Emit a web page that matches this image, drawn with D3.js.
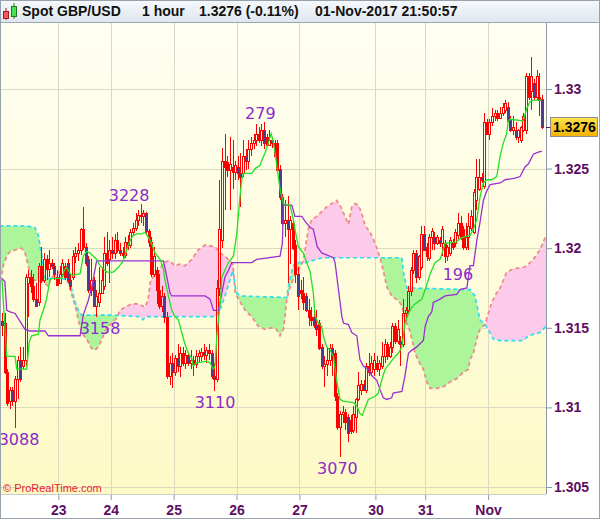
<!DOCTYPE html>
<html><head><meta charset="utf-8">
<script src="https://cdn.jsdelivr.net/npm/d3@7"></script>
<style>body{margin:0;background:#fff}svg{display:block}</style>
</head><body><svg id="c" width="600" height="519"></svg>
<script>
// ---------- DATA ----------
const openP=[1.3154,1.3153,1.3122,1.3104,1.3111,1.3104,1.3118,1.3130,1.3126,1.3130,
1.3178,1.3182,1.3176,1.3168,1.3166,1.3189,1.3180,1.3193,1.3187,1.3191,
1.3189,1.3182,1.3178,1.3184,1.3189,1.3191,1.3180,1.3182,1.3195,1.3197,
1.3199,1.3212,1.3201,1.3193,1.3174,1.3180,1.3164,1.3166,1.3172,1.3176,
1.3197,1.3193,1.3199,1.3197,1.3205,1.3199,1.3197,1.3196,1.3204,1.3202,
1.3210,1.3213,1.3218,1.3221,1.3220,1.3222,1.3211,1.3204,1.3184,1.3186,
1.3174,1.3164,1.3170,1.3157,1.3120,1.3128,1.3122,1.3131,1.3126,1.3134,
1.3128,1.3133,1.3128,1.3130,1.3127,1.3132,1.3132,1.3135,1.3133,1.3136,
1.3134,1.3120,1.3118,1.3175,1.3205,1.3255,1.3254,1.3249,1.3251,1.3248,
1.3251,1.3247,1.3247,1.3258,1.3255,1.3262,1.3266,1.3268,1.3272,1.3268,
1.3274,1.3270,1.3265,1.3268,1.3266,1.3266,1.3250,1.3232,1.3216,1.3218,
1.3212,1.3216,1.3202,1.3184,1.3174,1.3172,1.3170,1.3161,1.3157,1.3157,
1.3152,1.3153,1.3138,1.3126,1.3127,1.3130,1.3137,1.3134,1.3107,1.3088,
1.3096,1.3097,1.3094,1.3092,1.3086,1.3094,1.3105,1.3111,1.3115,1.3111,
1.3126,1.3122,1.3124,1.3128,1.3124,1.3126,1.3132,1.3140,1.3132,1.3138,
1.3151,1.3142,1.3142,1.3140,1.3159,1.3161,1.3173,1.3186,1.3197,1.3182,
1.3188,1.3209,1.3201,1.3194,1.3207,1.3207,1.3203,1.3205,1.3203,1.3203,
1.3195,1.3197,1.3204,1.3203,1.3208,1.3216,1.3212,1.3201,1.3207,1.3213,
1.3210,1.3230,1.3237,1.3245,1.3239,1.3279,1.3272,1.3279,1.3283,1.3285,
1.3282,1.3285,1.3287,1.3289,1.3281,1.3274,1.3274,1.3270,1.3268,1.3274,
1.3274,1.3308,1.3299,1.3304,1.3295,1.3295,1.3294];
const highP=[1.3159,1.3159,1.3124,1.3113,1.3113,1.3120,1.3132,1.3138,1.3138,1.3184,
1.3186,1.3186,1.3184,1.3178,1.3191,1.3201,1.3197,1.3196,1.3199,1.3193,
1.3191,1.3186,1.3189,1.3193,1.3191,1.3193,1.3184,1.3199,1.3201,1.3203,
1.3213,1.3226,1.3203,1.3195,1.3193,1.3182,1.3174,1.3188,1.3188,1.3207,
1.3210,1.3205,1.3207,1.3209,1.3210,1.3203,1.3201,1.3207,1.3208,1.3212,
1.3216,1.3222,1.3224,1.3228,1.3224,1.3223,1.3212,1.3207,1.3201,1.3188,
1.3184,1.3176,1.3172,1.3160,1.3132,1.3134,1.3133,1.3140,1.3138,1.3138,
1.3136,1.3134,1.3136,1.3132,1.3136,1.3136,1.3137,1.3140,1.3138,1.3140,
1.3136,1.3128,1.3180,1.3243,1.3263,1.3272,1.3258,1.3270,1.3268,1.3255,
1.3258,1.3260,1.3268,1.3262,1.3268,1.3270,1.3272,1.3278,1.3276,1.3278,
1.3279,1.3272,1.3274,1.3270,1.3268,1.3268,1.3252,1.3234,1.3230,1.3233,
1.3220,1.3218,1.3205,1.3188,1.3180,1.3182,1.3172,1.3168,1.3163,1.3162,
1.3161,1.3155,1.3140,1.3132,1.3138,1.3140,1.3140,1.3136,1.3109,1.3098,
1.3101,1.3099,1.3096,1.3095,1.3101,1.3106,1.3122,1.3117,1.3117,1.3128,
1.3134,1.3132,1.3134,1.3132,1.3130,1.3141,1.3143,1.3141,1.3141,1.3153,
1.3153,1.3155,1.3145,1.3168,1.3163,1.3176,1.3188,1.3199,1.3199,1.3196,
1.3214,1.3214,1.3203,1.3209,1.3213,1.3210,1.3208,1.3207,1.3214,1.3205,
1.3202,1.3207,1.3206,1.3212,1.3222,1.3220,1.3214,1.3216,1.3222,1.3224,
1.3237,1.3256,1.3256,1.3247,1.3285,1.3281,1.3281,1.3288,1.3287,1.3287,
1.3289,1.3291,1.3293,1.3292,1.3283,1.3283,1.3279,1.3275,1.3277,1.3285,
1.3310,1.3310,1.3320,1.3306,1.3312,1.3310,1.3296];
const lowP=[1.3145,1.3121,1.3101,1.3099,1.3101,1.3087,1.3105,1.3116,1.3124,1.3126,
1.3157,1.3172,1.3166,1.3164,1.3164,1.3178,1.3178,1.3180,1.3182,1.3187,
1.3180,1.3176,1.3178,1.3183,1.3180,1.3178,1.3174,1.3180,1.3191,1.3192,
1.3196,1.3199,1.3189,1.3172,1.3170,1.3163,1.3157,1.3163,1.3172,1.3174,
1.3189,1.3178,1.3193,1.3193,1.3197,1.3195,1.3194,1.3194,1.3199,1.3200,
1.3208,1.3211,1.3214,1.3216,1.3214,1.3208,1.3201,1.3182,1.3182,1.3165,
1.3162,1.3160,1.3153,1.3118,1.3114,1.3112,1.3120,1.3122,1.3119,1.3126,
1.3124,1.3126,1.3124,1.3120,1.3125,1.3128,1.3129,1.3130,1.3128,1.3130,
1.3118,1.3110,1.3116,1.3170,1.3200,1.3224,1.3245,1.3224,1.3237,1.3243,
1.3243,1.3226,1.3245,1.3249,1.3250,1.3258,1.3262,1.3264,1.3266,1.3264,
1.3262,1.3264,1.3264,1.3263,1.3257,1.3248,1.3230,1.3214,1.3207,1.3178,
1.3190,1.3199,1.3178,1.3161,1.3168,1.3161,1.3160,1.3151,1.3151,1.3150,
1.3145,1.3136,1.3124,1.3113,1.3120,1.3126,1.3120,1.3104,1.3086,1.3069,
1.3090,1.3086,1.3078,1.3083,1.3084,1.3084,1.3104,1.3108,1.3110,1.3109,
1.3120,1.3120,1.3120,1.3122,1.3120,1.3124,1.3128,1.3130,1.3131,1.3134,
1.3140,1.3140,1.3126,1.3138,1.3154,1.3158,1.3170,1.3184,1.3178,1.3180,
1.3186,1.3198,1.3192,1.3192,1.3199,1.3199,1.3202,1.3201,1.3195,1.3191,
1.3192,1.3195,1.3199,1.3201,1.3206,1.3205,1.3199,1.3199,1.3199,1.3211,
1.3209,1.3224,1.3236,1.3241,1.3237,1.3271,1.3268,1.3277,1.3280,1.3280,
1.3281,1.3283,1.3285,1.3279,1.3273,1.3271,1.3268,1.3266,1.3266,1.3273,
1.3272,1.3293,1.3287,1.3293,1.3293,1.3283,1.3275];
const closeP=[1.3152,1.3122,1.3103,1.3111,1.3104,1.3118,1.3130,1.3118,1.3130,1.3182,
1.3182,1.3176,1.3168,1.3164,1.3189,1.3180,1.3193,1.3187,1.3191,1.3189,
1.3184,1.3177,1.3184,1.3191,1.3182,1.3180,1.3176,1.3195,1.3197,1.3199,
1.3212,1.3201,1.3191,1.3174,1.3180,1.3164,1.3170,1.3172,1.3180,1.3197,
1.3191,1.3199,1.3197,1.3205,1.3199,1.3197,1.3196,1.3204,1.3202,1.3210,
1.3213,1.3218,1.3221,1.3220,1.3222,1.3211,1.3204,1.3184,1.3195,1.3174,
1.3164,1.3170,1.3157,1.3120,1.3128,1.3122,1.3131,1.3126,1.3134,1.3128,
1.3133,1.3128,1.3130,1.3127,1.3132,1.3134,1.3135,1.3133,1.3136,1.3134,
1.3120,1.3118,1.3175,1.3212,1.3255,1.3251,1.3249,1.3253,1.3248,1.3252,
1.3247,1.3245,1.3258,1.3255,1.3262,1.3266,1.3268,1.3272,1.3268,1.3274,
1.3266,1.3265,1.3268,1.3266,1.3258,1.3249,1.3232,1.3216,1.3218,1.3212,
1.3218,1.3200,1.3184,1.3170,1.3172,1.3166,1.3161,1.3157,1.3155,1.3152,
1.3149,1.3137,1.3126,1.3127,1.3130,1.3137,1.3132,1.3107,1.3088,1.3096,
1.3097,1.3091,1.3084,1.3085,1.3096,1.3105,1.3114,1.3115,1.3111,1.3126,
1.3122,1.3128,1.3130,1.3124,1.3128,1.3132,1.3140,1.3132,1.3138,1.3151,
1.3142,1.3149,1.3140,1.3159,1.3161,1.3173,1.3186,1.3197,1.3182,1.3195,
1.3209,1.3199,1.3195,1.3207,1.3211,1.3203,1.3207,1.3203,1.3212,1.3195,
1.3201,1.3205,1.3201,1.3210,1.3216,1.3207,1.3201,1.3207,1.3214,1.3220,
1.3235,1.3245,1.3245,1.3243,1.3279,1.3272,1.3279,1.3283,1.3285,1.3282,
1.3285,1.3289,1.3291,1.3280,1.3274,1.3276,1.3270,1.3274,1.3276,1.3283,
1.3308,1.3295,1.3308,1.3295,1.3308,1.3293,1.3276];

// Ichimoku lines as [candle index, price] vertices
const tenkan=[[0,1.3180],[0.8,1.3159],[1.8,1.3132],[5,1.3132],[5.6,1.3124],[9.4,1.3124],[10.4,1.3141],[11.3,1.3145],[13.9,1.3146],[14.5,1.3155],[15.8,1.3161],[17,1.3168],[18.3,1.3180],[19,1.3181],[22.8,1.3181],[23.7,1.3186],[24.7,1.3188],[26,1.3184],[26.6,1.3183],[29.8,1.3184],[31,1.3195],[32.3,1.3198],[33.6,1.3197],[36.1,1.3193],[37.4,1.3189],[38.7,1.3187],[40,1.3185],[42.5,1.3185],[44.4,1.3188],[46.3,1.3192],[47.6,1.3199],[48.9,1.3205],[50.1,1.3208],[51.4,1.3209],[53.3,1.3209],[54.6,1.3210],[55.8,1.3207],[57.1,1.3203],[58.4,1.3197],[60.3,1.3193],[61.6,1.3187],[62.2,1.3180],[63.5,1.3170],[64.8,1.3161],[66,1.3157],[67.3,1.3155],[68.6,1.3147],[69.8,1.3140],[71.1,1.3134],[72.4,1.3131],[73,1.3126],[74.3,1.3128],[78.1,1.3129],[79.4,1.3128],[80.6,1.3124],[81.3,1.3126],[82,1.3145],[82.6,1.3155],[83.3,1.3166],[83.9,1.3182],[86.4,1.3191],[88.3,1.3195],[89.6,1.3209],[90.8,1.3232],[91.5,1.3243],[92.1,1.3247],[95.3,1.3247],[96.6,1.3250],[98.5,1.3252],[99.1,1.3255],[100.4,1.3260],[101.6,1.3266],[102.7,1.3272],[103.5,1.3267],[104.2,1.3260],[104.8,1.3253],[106.1,1.3237],[107.4,1.3228],[109.9,1.3227],[111.2,1.3218],[111.8,1.3212],[113.1,1.3201],[115,1.3197],[116.3,1.3191],[117.6,1.3185],[118.8,1.3172],[119.5,1.3157],[120.7,1.3153],[122,1.3151],[122.6,1.3145],[123.9,1.3138],[125.2,1.3136],[126.5,1.3132],[127.7,1.3117],[129,1.3105],[130.3,1.3104],[134.1,1.3103],[135.4,1.3101],[136.6,1.3096],[137.5,1.3095],[138.6,1.3100],[139.8,1.3105],[142.4,1.3107],[143.6,1.3109],[144.9,1.3117],[146.2,1.3124],[148.1,1.3128],[150,1.3132],[151.3,1.3134],[152.6,1.3138],[153.2,1.3145],[153.8,1.3153],[155.1,1.3159],[156.4,1.3163],[157.6,1.3165],[160.2,1.3168],[161.5,1.3174],[162.7,1.3180],[163.4,1.3184],[165.3,1.3191],[167.2,1.3193],[169.1,1.3203],[173.5,1.3204],[174.8,1.3206],[176.1,1.3207],[178.6,1.3208],[179.9,1.3212],[181.2,1.3218],[182.4,1.3232],[183.7,1.3241],[185,1.3243],[186.9,1.3243],[188.8,1.3245],[190.1,1.3258],[191.3,1.3266],[192.6,1.3272],[193.2,1.3280],[193.9,1.3281],[198.9,1.3280],[200.3,1.3288],[201.5,1.3292],[202.8,1.3293],[206,1.3293]];
const kijun=[[0,1.3181],[1.1,1.3179],[1.8,1.3161],[3.1,1.3160],[5,1.3159],[6.9,1.3154],[8.8,1.3149],[10.7,1.3148],[16.4,1.3148],[17.7,1.3145],[29.8,1.3145],[31,1.3158],[32.9,1.3167],[34.2,1.3175],[36.1,1.3192],[61.6,1.3192],[62.9,1.3182],[64.1,1.3172],[64.8,1.3170],[77.5,1.3170],[79.4,1.3168],[80.7,1.3161],[82.6,1.3161],[85.1,1.3182],[86.4,1.3186],[87.7,1.3191],[95.3,1.3191],[97.2,1.3193],[106.1,1.3195],[107,1.3203],[107.4,1.3227],[110.6,1.3227],[111.8,1.3220],[114.4,1.3220],[115.6,1.3217],[117.6,1.3213],[118.8,1.3212],[120.3,1.3201],[122,1.3197],[126.5,1.3194],[127.1,1.3191],[128.4,1.3174],[129.7,1.3157],[130.3,1.3153],[132.2,1.3152],[133.5,1.3147],[135.4,1.3145],[136.6,1.3130],[137.9,1.3126],[139.8,1.3124],[141.1,1.3120],[143,1.3117],[144.3,1.3111],[145.5,1.3106],[146.8,1.3105],[148.7,1.3106],[149.3,1.3109],[152.6,1.3110],[153.8,1.3120],[155.1,1.3134],[156.4,1.3136],[158.3,1.3138],[160.8,1.3142],[161.5,1.3151],[162.7,1.3157],[164,1.3160],[164.6,1.3166],[167.2,1.3168],[169.1,1.3170],[173.5,1.3171],[174.8,1.3174],[177.4,1.3175],[178.6,1.3189],[179.9,1.3189],[181.2,1.3205],[182.4,1.3216],[183.7,1.3230],[185,1.3236],[186.3,1.3240],[190.1,1.3241],[192,1.3243],[195.8,1.3244],[197.7,1.3245],[199.6,1.3251],[200.9,1.3253],[202.8,1.3259],[204.1,1.3260],[206,1.3261]];
const spanA=[[-1,1.3214],[9.4,1.3214],[12.6,1.3213],[13.9,1.3208],[14.5,1.3201],[15.5,1.3193],[16,1.3182],[17.1,1.3181],[22.8,1.3181],[25.3,1.3180],[26.6,1.3174],[27.9,1.3166],[29.1,1.3161],[30.4,1.3158],[41.2,1.3158],[52.7,1.3157],[53.8,1.3155],[55,1.3157],[81.3,1.3157],[83.2,1.3161],[85.1,1.3170],[87,1.3180],[88.1,1.3186],[89,1.3176],[89.6,1.3172],[90.8,1.3170],[108.7,1.3169],[109.3,1.3176],[110.6,1.3186],[111.8,1.3191],[116.3,1.3191],[120.1,1.3193],[122.6,1.3194],[152.6,1.3194],[153.2,1.3185],[154.5,1.3175],[178.6,1.3174],[180.5,1.3170],[182.4,1.3155],[184.3,1.3152],[185.6,1.3149],[187.5,1.3143],[190.1,1.3142],[199,1.3142],[200.9,1.3145],[205.3,1.3147],[207.6,1.3151]];
const spanB=[[-1,1.3175],[0.5,1.3189],[1.8,1.3195],[3.1,1.3198],[7.5,1.3200],[8.8,1.3197],[10,1.3189],[10.7,1.3184],[12,1.3180],[15.8,1.3179],[17.7,1.3176],[18.7,1.3181],[20.2,1.3184],[22.1,1.3185],[24,1.3182],[25.3,1.3178],[26.6,1.3171],[27.9,1.3164],[29.1,1.3155],[30.4,1.3147],[32.3,1.3143],[34.2,1.3137],[35.5,1.3136],[36.8,1.3138],[38.7,1.3145],[40,1.3150],[41.9,1.3153],[43.8,1.3156],[45,1.3161],[46.9,1.3163],[49.5,1.3165],[52,1.3165],[54.6,1.3163],[55.8,1.3168],[56.5,1.3178],[57.1,1.3181],[58.4,1.3183],[59.7,1.3185],[61.6,1.3191],[63.5,1.3192],[64.8,1.3191],[66,1.3189],[67.9,1.3190],[69.8,1.3189],[72.4,1.3193],[74.9,1.3199],[77.5,1.3202],[81.3,1.3201],[83.2,1.3197],[85.1,1.3195],[87,1.3192],[88.1,1.3190],[89,1.3172],[90.2,1.3168],[92.8,1.3161],[95.3,1.3157],[97.8,1.3151],[100.4,1.3149],[102.9,1.3150],[104.8,1.3149],[106.1,1.3145],[107.4,1.3149],[108,1.3157],[108.7,1.3168],[110,1.3176],[111.8,1.3183],[113.7,1.3188],[115,1.3192],[116.9,1.3212],[118.2,1.3218],[120.1,1.3220],[122,1.3223],[123.9,1.3226],[125.8,1.3228],[127.7,1.3230],[129,1.3227],[130.9,1.3220],[132.2,1.3215],[133.5,1.3226],[134.7,1.3228],[136,1.3227],[137.3,1.3222],[138.6,1.3214],[140.5,1.3210],[142.4,1.3203],[144.3,1.3194],[145.5,1.3186],[146.8,1.3176],[148.7,1.3170],[151.3,1.3167],[152.6,1.3164],[153.8,1.3155],[155.1,1.3151],[156.4,1.3143],[157.6,1.3134],[159.6,1.3127],[160.8,1.3124],[162.1,1.3116],[163.4,1.3112],[166,1.3112],[168.5,1.3113],[171,1.3116],[173.5,1.3118],[176.1,1.3122],[178,1.3124],[178.6,1.3130],[179.9,1.3134],[181.2,1.3143],[182.4,1.3149],[184.3,1.3152],[185.6,1.3159],[186.9,1.3166],[188.8,1.3172],[190.1,1.3175],[192.6,1.3185],[195.2,1.3187],[199,1.3188],[200.3,1.3189],[202.8,1.3193],[205.3,1.3199],[207.6,1.3208]];

const yTicks=[1.305,1.31,1.315,1.32,1.325,1.33];
const dayIdx=[21.5,41.5,65.5,89.5,113.5,142.5,161.5,185.5];
const dayLabels=["23","24","25","26","27","30","31","Nov"];
const markText=["3088","3158","3228","3110","279","3070","196"];
const markIdx=[6.5,37.4,48.5,81.3,98.6,128,174];
const markPrice=[1.3087,1.3157,1.3228,1.3110,1.3279,1.3069,1.3191];
const markSide=["low","low","high","low","high","low","low"];
const titleParts=["Spot GBP/USD","1 hour","1.3276 (-0.11%)","01-Nov-2017 21:50:57"];
const copyright="© ProRealTime.com";

// ---------- LAYOUT ----------
const W=600,H=519, PL=0, PR=546, PT=23, PB=494;
const svg=d3.select('#c');
const x=d3.scaleLinear().domain([-0.76,207.6]).range([PL,PR]);
const y=d3.scaleLinear().domain([1.305,1.33]).range([487,89]);
const FONT='"Liberation Sans", Arial, sans-serif';
const AX='#5e0f63';

const defs=svg.append('defs');
const bg=defs.append('linearGradient').attr('id','bgG').attr('x1',0).attr('y1',0).attr('x2',0).attr('y2',1);
bg.append('stop').attr('offset','0%').attr('stop-color','#fffff3');
bg.append('stop').attr('offset','100%').attr('stop-color','#fdfac6');
const tg=defs.append('linearGradient').attr('id','tG').attr('x1',0).attr('y1',0).attr('x2',0).attr('y2',1);
tg.append('stop').attr('offset','0%').attr('stop-color','#f6f9fc');
tg.append('stop').attr('offset','100%').attr('stop-color','#dfe7ef');
const pg=defs.append('linearGradient').attr('id','pG').attr('x1',0).attr('y1',0).attr('x2',0).attr('y2',1);
pg.append('stop').attr('offset','0%').attr('stop-color','#ffe34d');
pg.append('stop').attr('offset','100%').attr('stop-color','#f2b200');
defs.append('clipPath').attr('id','plotClip').append('rect').attr('x',PL).attr('y',PT).attr('width',PR-PL).attr('height',PB-PT);

svg.append('rect').attr('width',W).attr('height',H).attr('fill','#fff');
// title bar
svg.append('rect').attr('x',0).attr('y',0).attr('width',W).attr('height',22).attr('fill','url(#tG)');
svg.append('line').attr('x1',0).attr('x2',W).attr('y1',22.5).attr('y2',22.5).attr('stroke','#9aa6b2');
// icon
svg.append('line').attr('x1',6).attr('x2',6).attr('y1',8).attr('y2',20).attr('stroke','#a02020');
svg.append('rect').attr('x',3.5).attr('y',11.5).attr('width',5).attr('height',7).attr('fill','#f05a5a').attr('stroke','#a02020');
svg.append('line').attr('x1',14).attr('x2',14).attr('y1',3).attr('y2',19).attr('stroke','#1f7a1f');
svg.append('rect').attr('x',11.5).attr('y',6.5).attr('width',5).attr('height',10).attr('fill','#4fe04f').attr('stroke','#1f7a1f');
const tX=[22,142,199,315];
titleParts.forEach((t,i)=>svg.append('text').attr('x',tX[i]).attr('y',16).text(t)
  .attr('font-family',FONT).attr('font-size',14).attr('font-weight','bold').attr('fill','#111'));

// plot background
svg.append('rect').attr('x',PL).attr('y',PT).attr('width',PR-PL).attr('height',PB-PT).attr('fill','url(#bgG)');
// grid
const grid=svg.append('g').attr('stroke','#dcd9c2').attr('stroke-width',1);
yTicks.forEach(v=>grid.append('line').attr('x1',PL).attr('x2',PR).attr('y1',Math.round(y(v))+0.5).attr('y2',Math.round(y(v))+0.5));
dayIdx.forEach(v=>grid.append('line').attr('y1',PT).attr('y2',PB).attr('x1',Math.round(x(v))+0.5).attr('x2',Math.round(x(v))+0.5));

const plot=svg.append('g').attr('clip-path','url(#plotClip)');
// cloud fills via clipping
const below=d3.area().x(d=>x(d[0])).y0(PB+5).y1(d=>y(d[1]));
const above=d3.area().x(d=>x(d[0])).y0(PT-5).y1(d=>y(d[1]));
defs.append('clipPath').attr('id','aboveB').append('path').attr('d',above(spanB));
defs.append('clipPath').attr('id','aboveA').append('path').attr('d',above(spanA));
plot.append('g').attr('clip-path','url(#aboveB)').append('path').attr('d',below(spanA)).attr('fill','#acf59a');
plot.append('g').attr('clip-path','url(#aboveA)').append('path').attr('d',below(spanB)).attr('fill','#fccbe9');
const line=d3.line().x(d=>x(d[0])).y(d=>y(d[1]));
plot.append('path').attr('d',line(spanB)).attr('fill','none').attr('stroke','#f08888').attr('stroke-width',1.7).attr('stroke-dasharray','4,3');
plot.append('path').attr('d',line(spanA)).attr('fill','none').attr('stroke','#2cdcf2').attr('stroke-width',1.7).attr('stroke-dasharray','4,3');

// candles
const cd=openP.map((o,i)=>({i,o,h:highP[i],l:lowP[i],c:closeP[i]}));
const cg=plot.append('g').attr('shape-rendering','crispEdges');
cd.forEach(d=>{
  const cx=Math.round(x(d.i));
  const top=Math.round(y(Math.max(d.o,d.c))), bot=Math.round(y(Math.min(d.o,d.c)));
  const hy=Math.round(y(d.h)), ly=Math.round(y(d.l));
  if(hy<top) cg.append('line').attr('x1',cx+0.5).attr('x2',cx+0.5).attr('y1',hy).attr('y2',top).attr('stroke','#ff0000');
  if(ly>bot) cg.append('line').attr('x1',cx+0.5).attr('x2',cx+0.5).attr('y1',bot).attr('y2',ly).attr('stroke','#ff0000');
  cg.append('rect').attr('x',cx-0.5).attr('y',top+0.5).attr('width',2).attr('height',Math.max(1,bot-top))
    .attr('fill',d.c<d.o?'#4b3a8e':'none').attr('stroke','#ff0000');
});

// indicator lines
plot.append('path').attr('d',line(kijun)).attr('fill','none').attr('stroke','#9a2fd2').attr('stroke-width',1.3);
plot.append('path').attr('d',line(tenkan)).attr('fill','none').attr('stroke','#22e022').attr('stroke-width',1.3);

// high/low markers
markText.forEach((t,i)=>{
  const yy=markSide[i]==='high'? y(markPrice[i])-3 : y(markPrice[i])+17;
  svg.append('text').attr('x',x(markIdx[i])).attr('y',yy).attr('text-anchor','middle').text(t)
    .attr('font-family','"DejaVu Sans", Verdana, sans-serif').attr('font-size',16).attr('fill','#8a2bc8');
});

// copyright
svg.append('text').attr('x',3).attr('y',492).text(copyright).attr('font-family',FONT).attr('font-size',11).attr('fill','#e8202a');

// axes
const ya=svg.append('g').attr('transform',`translate(${PR},0)`)
  .call(d3.axisRight(y).tickValues(yTicks).tickSize(6).tickPadding(2).tickFormat(d=>String(d)));
ya.select('.domain').remove();
ya.selectAll('line').attr('stroke','#8c98a4');
ya.selectAll('text').attr('font-family',FONT).attr('font-size',14).attr('font-weight','bold').attr('fill',AX);
const xa=svg.append('g').attr('transform',`translate(0,${PB})`)
  .call(d3.axisBottom(x).tickValues(dayIdx).tickSize(6).tickPadding(5).tickFormat((d,i)=>dayLabels[i]));
xa.select('.domain').remove();
xa.selectAll('line').attr('stroke','#8c98a4');
xa.selectAll('text').attr('font-family',FONT).attr('font-size',14).attr('font-weight','bold').attr('fill',AX);
svg.append('line').attr('x1',PR+0.5).attr('x2',PR+0.5).attr('y1',PT).attr('y2',PB).attr('stroke','#8c98a4');
svg.append('line').attr('x1',PL).attr('x2',PR).attr('y1',PB+0.5).attr('y2',PB+0.5).attr('stroke','#c8ccd0');

// last price box
const last=closeP[closeP.length-1];
svg.append('line').attr('x1',PR).attr('x2',551).attr('y1',Math.round(y(last))+0.5).attr('y2',Math.round(y(last))+0.5).attr('stroke',AX);
svg.append('rect').attr('x',550.5).attr('y',Math.round(y(last))-9.5).attr('width',47).attr('height',19).attr('fill','url(#pG)').attr('stroke','#8c8c8c');
svg.append('text').attr('x',553).attr('y',Math.round(y(last))+5).text(d3.format('.4f')(last))
  .attr('font-family',FONT).attr('font-size',14).attr('font-weight','bold').attr('fill','#000');

// frame
svg.append('rect').attr('x',0.5).attr('y',0.5).attr('width',W-1).attr('height',H-1).attr('fill','none').attr('stroke','#98a2ac');
</script></body></html>
